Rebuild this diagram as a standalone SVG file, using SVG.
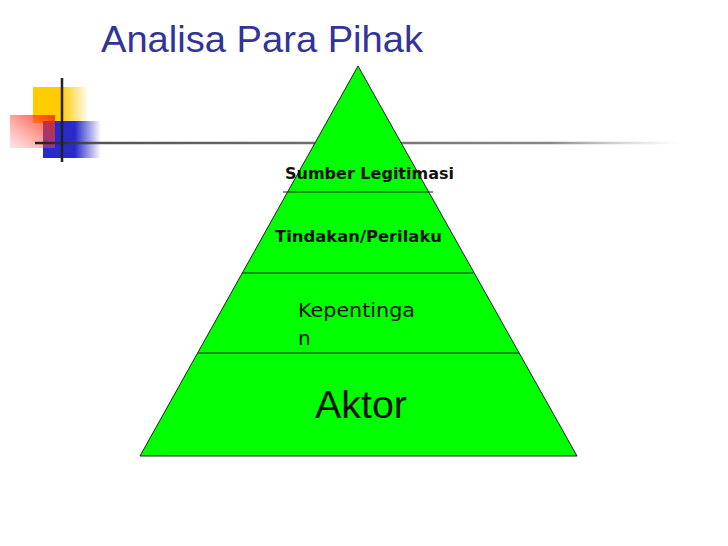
<svg xmlns="http://www.w3.org/2000/svg" width="728" height="546" viewBox="0 0 728 546">
<defs>
<linearGradient id="gy" x1="0" y1="0" x2="1" y2="0"><stop offset="0" stop-color="#ffcc00"/><stop offset="0.5" stop-color="#ffcc00"/><stop offset="1" stop-color="#ffcc00" stop-opacity="0"/></linearGradient>
<linearGradient id="gr" x1="1" y1="0" x2="0" y2="1"><stop offset="0" stop-color="#ff2200"/><stop offset="1" stop-color="#ff6666" stop-opacity="0.2"/></linearGradient>
<linearGradient id="gb" x1="0" y1="0" x2="1" y2="0"><stop offset="0" stop-color="#2a2acc"/><stop offset="0.55" stop-color="#2a2acc"/><stop offset="1" stop-color="#2a2acc" stop-opacity="0"/></linearGradient>
<linearGradient id="gl" gradientUnits="userSpaceOnUse" x1="35" y1="0" x2="680" y2="0"><stop offset="0" stop-color="#222"/><stop offset="0.05" stop-color="#333"/><stop offset="0.1" stop-color="#555"/><stop offset="0.8" stop-color="#888"/><stop offset="1" stop-color="#bbb" stop-opacity="0"/></linearGradient>
<style>
.lbl{font-family:"DejaVu Sans",Verdana,sans-serif;fill:#111}
.b{font-weight:bold;font-size:16px}
.sep{stroke:#222;stroke-width:1}
</style>
</defs>
<g id="decoration">
<rect x="33" y="87" width="56" height="36" fill="url(#gy)"/>
<rect x="43" y="121" width="58" height="37" fill="url(#gb)"/>
<rect x="10" y="115" width="45" height="33" fill="url(#gr)" opacity="0.85"/>
<line x1="35" y1="143" x2="680" y2="143" stroke="url(#gl)" stroke-width="2.5"/>
<line x1="62" y1="78" x2="62" y2="162" stroke="#222" stroke-width="2.5"/>
</g>
<text id="title" x="101" y="52" font-family="'Liberation Sans',Arial,sans-serif" font-size="37" fill="#333399" textLength="322" lengthAdjust="spacingAndGlyphs">Analisa Para Pihak</text>
<g id="pyramid">
<polygon points="358,66 577,456 140,456" fill="#00ff00" stroke="#222" stroke-width="1"/>
</g>
<g id="connectors">
<line class="sep" x1="283" y1="192" x2="433" y2="192"/>
<line class="sep" x1="242" y1="273" x2="473" y2="273"/>
<line class="sep" x1="198" y1="353" x2="519" y2="353"/>
</g>
<g id="sumber"><text class="lbl b" x="285" y="179" textLength="169" lengthAdjust="spacingAndGlyphs">Sumber Legitimasi</text></g>
<g id="tindakan"><text class="lbl b" x="275" y="242" textLength="167" lengthAdjust="spacingAndGlyphs">Tindakan/Perilaku</text></g>
<g id="kepentingan"><text class="lbl" font-size="20" x="298" y="317" textLength="117" lengthAdjust="spacingAndGlyphs">Kepentinga</text><text class="lbl" font-size="20" x="298" y="345">n</text></g>
<g id="aktor"><text x="315" y="418" font-family="'Liberation Sans',Arial,sans-serif" font-size="38" fill="#111" textLength="92" lengthAdjust="spacingAndGlyphs">Aktor</text></g>
</svg>
